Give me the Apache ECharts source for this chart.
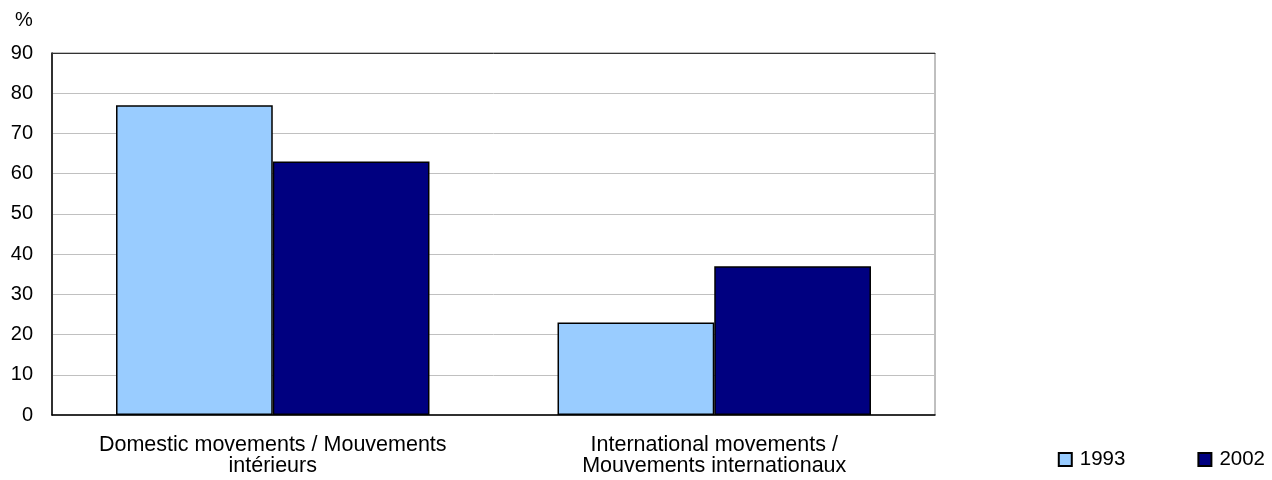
<!DOCTYPE html>
<html>
<head>
<meta charset="utf-8">
<script src="https://cdn.jsdelivr.net/npm/echarts@6/dist/echarts.min.js"></script>
<style>
  html, body { margin: 0; padding: 0; background: #fff; }
  #chart { width: 1272px; height: 480px; }
</style>
</head>
<body>
<div id="chart"></div>
<script>
// Share of movements by type, 1993 vs 2002
const categories = [
  'Domestic movements / Mouvements\nintérieurs',
  'International movements /\nMouvements internationaux'
];
const seriesNames = ['1993', '2002'];
const values1993 = [77, 23];
const values2002 = [63, 37];
const yTicks = { min: 0, max: 90, interval: 10 };

const FONT = '"Liberation Sans", Arial, sans-serif';
const chart = echarts.init(document.getElementById('chart'), null, { renderer: 'canvas' });

chart.setOption({
  animation: false,
  backgroundColor: '#ffffff',
  textStyle: { fontFamily: FONT, color: '#000' },
  grid: {
    left: 52, right: 337, top: 53, bottom: 65,
    show: true, borderColor: '#808080', borderWidth: 1, backgroundColor: 'transparent'
  },
  graphic: [{
    type: 'text', left: 15, top: 10,
    style: { text: '%', font: '20px ' + FONT, fill: '#000' }
  }],
  legend: {
    right: 2, top: 444,
    itemWidth: 13, itemHeight: 13, itemGap: 72,
    icon: 'rect',
    textStyle: { fontFamily: FONT, fontSize: 20.5, color: '#000', padding: [0, 0, 0, 3] },
    data: seriesNames
  },
  xAxis: [{
    type: 'category',
    data: categories,
    axisLine: { show: true, lineStyle: { color: '#000', width: 1.5 } },
    axisTick: { show: false },
    axisLabel: {
      fontFamily: FONT, fontSize: 21.5, lineHeight: 21, color: '#000', margin: 20, interval: 0
    }
  }, {
    type: 'category', position: 'top', data: categories,
    axisLine: { show: true, lineStyle: { color: '#333', width: 1 } },
    axisTick: { show: false }, axisLabel: { show: false }
  }],
  yAxis: {
    type: 'value',
    min: yTicks.min, max: yTicks.max, interval: yTicks.interval,
    axisLine: { show: true, lineStyle: { color: '#000', width: 1.5 } },
    axisTick: { show: false },
    axisLabel: { fontFamily: FONT, fontSize: 20, color: '#000', margin: 19 },
    splitLine: { show: true, lineStyle: { color: '#c0c0c0', width: 1 } }
  },
  series: [{
    name: seriesNames[0], type: 'bar', data: values1993,
    barGap: '0%', barCategoryGap: '29%',
    itemStyle: { color: '#99ccff', borderColor: '#000', borderWidth: 1.5 }
  }, {
    name: seriesNames[1], type: 'bar', data: values2002,
    barGap: '0%', barCategoryGap: '29%',
    itemStyle: { color: '#000080', borderColor: '#000', borderWidth: 1.5 }
  }]
});
</script>
</body>
</html>
